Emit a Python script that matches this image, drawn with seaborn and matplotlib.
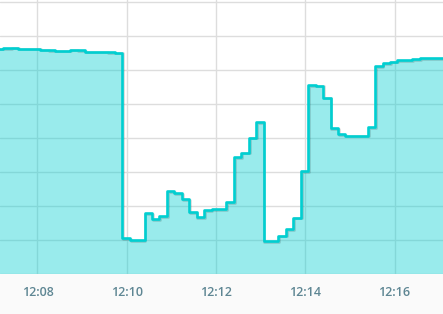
import matplotlib
matplotlib.use("Agg")
import matplotlib.pyplot as plt
import matplotlib.patheffects as pe
import pandas as pd
import seaborn as sns

# ---- data ----
start_time = "2024-01-01 12:07:04"
sample_interval = "10s"
values = [
    66.3, 66.5, 66.6, 66.3, 66.3, 66.3, 66.0, 65.9, 65.7, 65.7,
    66.0, 65.9, 65.4, 65.4, 65.4, 65.3, 65.1, 10.6, 10.0, 10.0,
    18.0, 16.2, 17.1, 24.5, 23.8, 22.1, 18.3, 16.8, 18.8, 19.0,
    19.1, 21.2, 34.5, 35.7, 40.1, 44.7, 9.7, 9.7, 11.3, 13.2,
    16.6, 30.3, 55.6, 55.4, 51.9, 42.9, 41.1, 40.7, 40.7, 40.7,
    43.3, 61.2, 62.1, 62.5, 62.9, 62.9, 63.2, 63.4, 63.4, 63.5,
    63.5, 63.5,
]
tick_labels = ["12:08", "12:10", "12:12", "12:14", "12:16"]
x_start = "2024-01-01 12:07:09.6"
x_end = "2024-01-01 12:17:05.2"

times = pd.date_range(start=start_time, periods=len(values), freq=sample_interval)
df = pd.DataFrame({"time": times, "value": values})

LINE = "#00cfd1"
sns.set_style("white")

fig = plt.figure(figsize=(4.43, 3.14), dpi=100, facecolor="#fafafa")
ax = fig.add_axes([0, 40 / 314, 1, 274 / 314])
ax.set_facecolor("white")

ax.fill_between(df["time"], df["value"], 0, step="post", color=LINE,
                alpha=0.4, linewidth=0, zorder=2)
sns.lineplot(data=df, x="time", y="value", ax=ax, color=LINE,
             drawstyle="steps-post", linewidth=1.9, zorder=3,
             path_effects=[pe.SimpleLineShadow(offset=(0.6, -0.6), alpha=0.15),
                           pe.Normal()])

ax.set_xlim(pd.Timestamp(x_start), pd.Timestamp(x_end))
ax.set_ylim(0, 274 / 3.4)
ax.set_yticks(range(0, 90, 10))
ax.set_yticklabels([])
tick_pos = [pd.Timestamp("2024-01-01 " + t) for t in tick_labels]
ax.set_xticks(tick_pos)
ax.set_xticklabels(tick_labels, fontsize=9, color="#5e8693",
                   fontfamily="Open Sans", fontweight="semibold")
ax.tick_params(axis="both", length=0, pad=9)
ax.tick_params(axis="y", pad=0)
ax.grid(True, color="#dddddd", linewidth=1.0)
ax.set_axisbelow(True)
for s in ax.spines.values():
    s.set_visible(False)
ax.set_xlabel("")
ax.set_ylabel("")

fig.savefig("out.png", dpi=100, facecolor=fig.get_facecolor())
